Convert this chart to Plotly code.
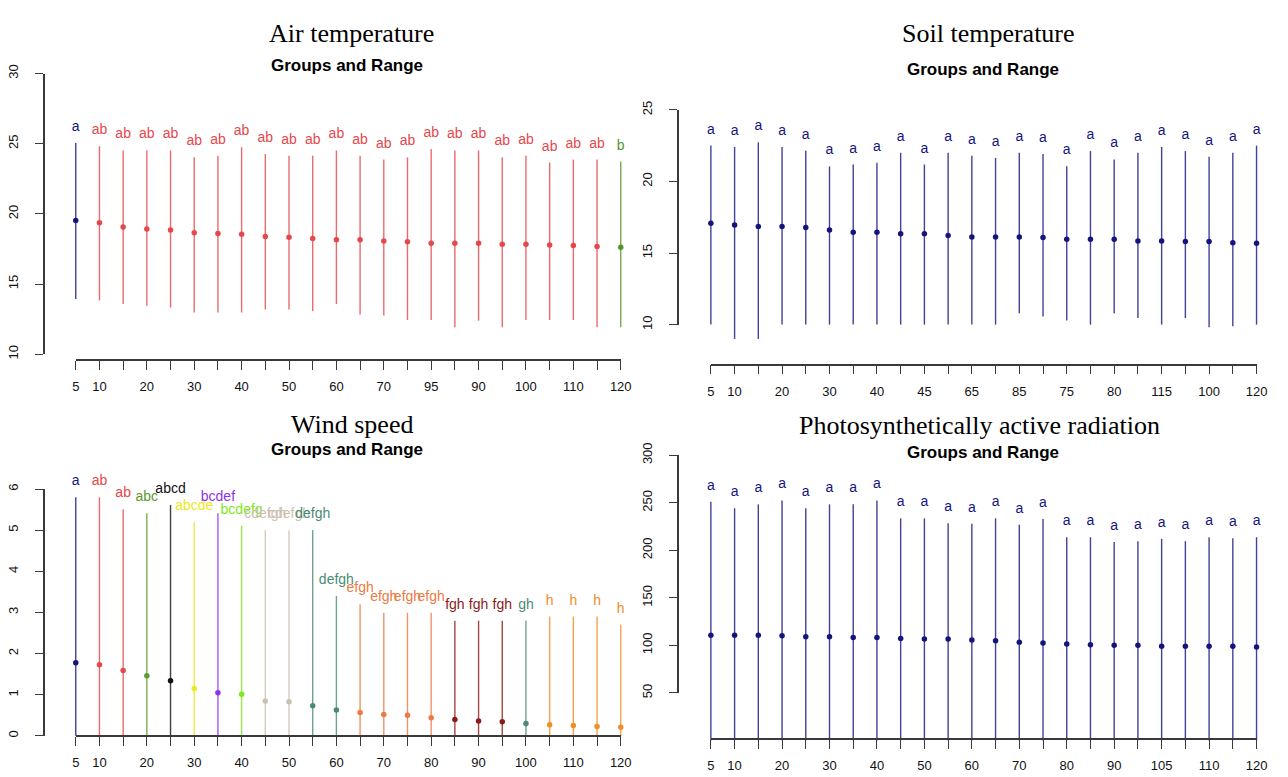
import plotly.graph_objects as go

W, H = 1288, 777

# ---------------- data ----------------
# Air temperature
air_cats = [5, 10, 15, 20, 25, 30, 35, 40, 45, 50, 55, 60, 65, 70, 75, 95, 80, 90, 85, 100, 105, 110, 115, 120]
air_mean = [19.52, 19.36, 19.06, 18.92, 18.85, 18.66, 18.61, 18.54, 18.38, 18.33, 18.24, 18.15,
            18.15, 18.06, 18.01, 17.90, 17.90, 17.90, 17.83, 17.83, 17.78, 17.74, 17.67, 17.62]
air_max = [25.05, 24.82, 24.52, 24.52, 24.52, 24.03, 24.15, 24.75, 24.26, 24.15, 24.15, 24.52,
           24.15, 23.87, 24.03, 24.63, 24.52, 24.52, 24.03, 24.15, 23.66, 23.87, 23.87, 23.73]
air_min = [13.94, 13.83, 13.57, 13.46, 13.32, 12.97, 12.97, 12.97, 13.18, 13.18, 13.07, 13.57,
           12.83, 12.76, 12.44, 12.44, 11.92, 12.39, 11.92, 12.44, 12.44, 12.44, 11.92, 11.92]
air_groups = ["a", "ab", "ab", "ab", "ab", "ab", "ab", "ab", "ab", "ab", "ab", "ab",
              "ab", "ab", "ab", "ab", "ab", "ab", "ab", "ab", "ab", "ab", "ab", "b"]
air_yticks = [10, 15, 20, 25, 30]

# Soil temperature
soil_cats = [5, 10, 15, 20, 25, 30, 35, 40, 50, 45, 55, 65, 60, 85, 70, 75, 90, 80, 95, 115, 105, 100, 110, 120]
soil_mean = [17.08, 16.96, 16.85, 16.85, 16.78, 16.62, 16.46, 16.46, 16.35, 16.35, 16.23, 16.12,
             16.12, 16.12, 16.08, 15.96, 15.96, 15.96, 15.85, 15.85, 15.80, 15.80, 15.73, 15.69]
soil_max = [22.51, 22.42, 22.74, 22.42, 22.15, 21.06, 21.19, 21.31, 22.01, 21.19, 22.01, 21.81,
            21.65, 22.01, 21.92, 21.06, 22.13, 21.54, 22.01, 22.42, 22.13, 21.74, 22.01, 22.51]
soil_min = [10.0, 9.0, 9.0, 10.0, 10.0, 10.0, 10.0, 10.0, 10.0, 10.0, 10.0, 10.0,
            10.0, 10.8, 10.57, 10.29, 10.0, 10.8, 10.46, 10.0, 10.46, 9.82, 9.89, 10.0]
soil_groups = ["a", "a", "a", "a", "a", "a", "a", "a", "a", "a", "a", "a",
               "a", "a", "a", "a", "a", "a", "a", "a", "a", "a", "a", "a"]
soil_yticks = [10, 15, 20, 25]

# Wind speed
wind_cats = [5, 10, 15, 20, 25, 30, 35, 40, 45, 50, 55, 60, 65, 70, 75, 80, 85, 90, 95, 100, 105, 110, 115, 120]
wind_mean = [1.78, 1.73, 1.59, 1.46, 1.34, 1.15, 1.05, 1.01, 0.85, 0.83, 0.73, 0.63,
             0.57, 0.52, 0.50, 0.44, 0.40, 0.36, 0.34, 0.30, 0.27, 0.25, 0.23, 0.21]
wind_max = [5.80, 5.80, 5.51, 5.41, 5.61, 5.20, 5.41, 5.11, 5.00, 5.00, 5.00, 3.40,
            3.20, 2.99, 2.99, 2.99, 2.80, 2.80, 2.80, 2.80, 2.90, 2.90, 2.90, 2.70]
wind_min = [0, 0, 0, 0, 0, 0, 0, 0, 0, 0, 0, 0,
            0, 0, 0, 0, 0, 0, 0, 0, 0, 0, 0, 0]
wind_groups = ["a", "ab", "ab", "abc", "abcd", "abcde", "bcdef", "bcdefg", "cdefgh", "cdefgh", "defgh", "defgh",
               "efgh", "efgh", "efgh", "efgh", "fgh", "fgh", "fgh", "gh", "h", "h", "h", "h"]
wind_yticks = [0, 1, 2, 3, 4, 5, 6]

# Photosynthetically active radiation
par_cats = [5, 10, 15, 20, 25, 30, 35, 40, 45, 50, 55, 60, 65, 70, 75, 80, 85, 90, 95, 105, 100, 110, 115, 120]
par_mean = [110.7, 110.7, 110.7, 110.0, 109.0, 109.0, 108.3, 108.3, 107.3, 106.6, 106.6, 105.5,
            104.8, 103.2, 102.4, 101.4, 100.7, 100.0, 100.0, 99.0, 99.0, 99.0, 99.0, 98.3]
par_max = [251.1, 244.2, 248.3, 252.4, 244.2, 248.3, 248.3, 252.4, 233.6, 233.6, 228.5, 227.8,
           233.6, 226.8, 232.9, 213.7, 213.7, 208.6, 209.6, 212.0, 209.6, 213.7, 212.7, 213.7]
par_min = [0, 0, 0, 0, 0, 0, 0, 0, 0, 0, 0, 0,
           0, 0, 0, 0, 0, 0, 0, 0, 0, 0, 0, 0]
par_groups = ["a", "a", "a", "a", "a", "a", "a", "a", "a", "a", "a", "a",
              "a", "a", "a", "a", "a", "a", "a", "a", "a", "a", "a", "a"]
par_yticks = [50, 100, 150, 200, 250, 300]

# ---------------- styles ----------------
group_colors = {
    "a": "#14147e", "ab": "#e5474b", "b": "#4f962c", "abc": "#5c9a2e", "abcd": "#111111",
    "abcde": "#eaea1e", "bcdef": "#9131e6", "bcdefg": "#7ee81c", "cdefgh": "#cdbfb0",
    "defgh": "#4a8a74", "efgh": "#ec7a44", "fgh": "#8b1a1a", "gh": "#4a8a74", "h": "#f28c28",
}

panels = [
    dict(title="Air temperature", cats=air_cats, mean=air_mean, mx=air_max, mn=air_min,
         groups=air_groups, yticks=air_yticks),
    dict(title="Soil temperature", cats=soil_cats, mean=soil_mean, mx=soil_max, mn=soil_min,
         groups=soil_groups, yticks=soil_yticks),
    dict(title="Wind speed", cats=wind_cats, mean=wind_mean, mx=wind_max, mn=wind_min,
         groups=wind_groups, yticks=wind_yticks),
    dict(title="Photosynthetically active radiation", cats=par_cats, mean=par_mean, mx=par_max,
         mn=par_min, groups=par_groups, yticks=par_yticks),
]

# pixel geometry of each panel (window pixels)
geom = [
    dict(ylo_px=349.3, yhi_px=62.0, yline_x=40, bar_x=(72.6, 624.0), xline_y=355,
         data_px=(70, 372), title=(352, 21), sub=(347, 54)),
    dict(ylo_px=319.0, yhi_px=99.3, yline_x=682, bar_x=(715.2, 1267.3), xline_y=360,
         data_px=(75, 372), title=(996, 21), sub=(991, 58)),
    dict(ylo_px=740.0, yhi_px=487.3, yline_x=40, bar_x=(72.6, 624.0), xline_y=740,
         data_px=(462, 760), title=(352, 421), sub=(347, 447)),
    dict(ylo_px=696.0, yhi_px=452.7, yline_x=682, bar_x=(715.2, 1267.3), xline_y=743,
         data_px=(462, 760), title=(987, 422), sub=(991, 450)),
]


def fx(px):
    return px / W


def fy(py):
    return 1 - py / H


SANS = "Liberation Sans, Arial, sans-serif"
SERIF = "Liberation Serif, Times New Roman, serif"
AXIS_COLOR = "#3a3a3a"

fig = go.Figure()
layout = dict(
    width=W, height=H, margin=dict(l=0, r=0, t=0, b=0),
    paper_bgcolor="white", plot_bgcolor="rgba(0,0,0,0)", showlegend=False,
    annotations=[],
)

for k, (p, g) in enumerate(zip(panels, geom)):
    n = len(p["cats"])
    dx_id, dy_id = 2 * k + 1, 2 * k + 1
    vx_id, vy_id = 2 * k + 2, 2 * k + 2
    dxa = "x" + ("" if dx_id == 1 else str(dx_id))
    dya = "y" + ("" if dy_id == 1 else str(dy_id))
    vxa = "x" + str(vx_id)
    vya = "y" + str(vy_id)

    bx0, bx1 = g["bar_x"]
    step = (bx1 - bx0) / (n - 1)
    vlo, vhi = p["yticks"][0], p["yticks"][-1]
    upp = (vhi - vlo) / (g["ylo_px"] - g["yhi_px"])  # units per pixel
    top_px, bot_px = g["data_px"]
    d_rng = [vlo + (g["ylo_px"] - bot_px) * upp, vlo + (g["ylo_px"] - top_px) * upp]

    # hidden data axes (wide, so nothing is clipped)
    layout["xaxis" + ("" if dx_id == 1 else str(dx_id))] = dict(
        domain=[fx(bx0 - 0.5 * step), fx(bx1 + 0.5 * step)], range=[0.5, n + 0.5],
        visible=False, anchor=dya, fixedrange=True)
    layout["yaxis" + ("" if dy_id == 1 else str(dy_id))] = dict(
        domain=[fy(bot_px), fy(top_px)], range=d_rng, visible=False, anchor=dxa, fixedrange=True)

    # visible R-style axes spanning only the tick range
    ticktext = [str(c) if (i == 0 or i % 2 == 1) else "" for i, c in enumerate(p["cats"])]
    layout["xaxis" + str(vx_id)] = dict(
        domain=[fx(bx0), fx(bx1)], range=[1, n], anchor="free", position=fy(g["xline_y"]),
        showline=True, linecolor=AXIS_COLOR, linewidth=1.5, showgrid=False, zeroline=False,
        ticks="outside", ticklen=9, tickwidth=1.2, tickcolor=AXIS_COLOR,
        tickmode="array", tickvals=list(range(1, n + 1)), ticktext=ticktext,
        tickfont=dict(family=SANS, size=13, color="#111111"), ticklabelstandoff=6,
        fixedrange=True)
    layout["yaxis" + str(vy_id)] = dict(
        domain=[fy(g["ylo_px"]), fy(g["yhi_px"])], range=[vlo, vhi], anchor="free",
        position=fx(g["yline_x"]), showline=True, linecolor=AXIS_COLOR, linewidth=1.5,
        showgrid=False, zeroline=False, ticks="outside", ticklen=8, tickwidth=1.2,
        tickcolor=AXIS_COLOR, tickmode="array", tickvals=p["yticks"],
        ticktext=[str(t) for t in p["yticks"]], tickangle=-90,
        tickfont=dict(family=SANS, size=13, color="#111111"), ticklabelstandoff=12,
        fixedrange=True)

    fig.add_trace(go.Scatter(x=[1], y=[vlo], mode="markers", marker=dict(opacity=0),
                             xaxis=vxa, yaxis=vya, hoverinfo="skip", showlegend=False))

    colors = [group_colors[gr] for gr in p["groups"]]
    pos = list(range(1, n + 1))

    for i in range(n):
        fig.add_trace(go.Scatter(
            x=[pos[i], pos[i]], y=[p["mn"][i], p["mx"][i]], mode="lines",
            line=dict(color=colors[i], width=1.4), opacity=0.8,
            xaxis=dxa, yaxis=dya, hoverinfo="skip", showlegend=False))

    fig.add_trace(go.Scatter(
        x=pos, y=p["mean"], mode="markers", marker=dict(color=colors, size=5.5, line=dict(width=0)),
        xaxis=dxa, yaxis=dya, cliponaxis=False, showlegend=False))

    fig.add_trace(go.Scatter(
        x=pos, y=p["mx"], mode="markers+text", text=p["groups"], textposition="top center",
        marker=dict(size=12, opacity=0), textfont=dict(family=SANS, size=14, color=colors),
        xaxis=dxa, yaxis=dya, cliponaxis=False, hoverinfo="skip", showlegend=False))

    layout["annotations"].append(dict(
        text=p["title"], x=fx(g["title"][0]), y=fy(g["title"][1]), xref="paper", yref="paper",
        xanchor="center", yanchor="middle", showarrow=False,
        font=dict(family=SERIF, size=26, color="#000000")))
    layout["annotations"].append(dict(
        text="<b>Groups and Range</b>", x=fx(g["sub"][0]), y=fy(g["sub"][1]), xref="paper",
        yref="paper", xanchor="center", yanchor="middle", showarrow=False,
        font=dict(family=SANS, size=17, color="#000000")))

fig.update_layout(**layout)
fig.write_html(
    "out.html",
    config={"displayModeBar": False},
    post_script="document.body.style.margin='0px';document.documentElement.style.overflow='hidden';",
)
